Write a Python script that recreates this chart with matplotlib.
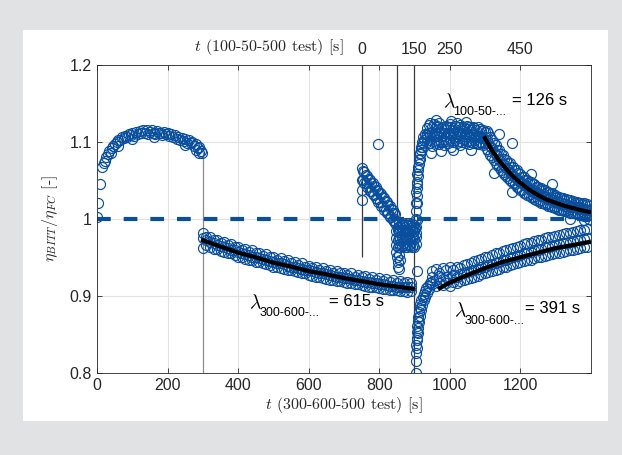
import numpy as np
import matplotlib.pyplot as plt
from matplotlib.patches import Rectangle
import matplotlib.transforms as mtransforms

plt.rcParams['mathtext.fontset'] = 'cm'

# ---- data ----------------------------------------------------------------
# 0-300 s (first arc), pairs (t, ratio)
seg_a = [(0, 1.003), (3, 1.020), (8, 1.045), (14, 1.068), (18, 1.072), (22, 1.075),
         (26, 1.080), (30, 1.084), (34, 1.088), (38, 1.086), (42, 1.092), (46, 1.095),
         (50, 1.097), (55, 1.100), (60, 1.102), (60, 1.095), (65, 1.103), (70, 1.106),
         (75, 1.105), (80, 1.108), (85, 1.107), (90, 1.110), (95, 1.109), (100, 1.112),
         (100, 1.104), (105, 1.108), (110, 1.113), (115, 1.110), (120, 1.114), (125, 1.111),
         (130, 1.116), (135, 1.112), (140, 1.115), (145, 1.110), (150, 1.113), (155, 1.116),
         (160, 1.112), (160, 1.106), (165, 1.110), (170, 1.114), (175, 1.111), (180, 1.112),
         (185, 1.109), (190, 1.113), (195, 1.110), (200, 1.111), (205, 1.108), (210, 1.110),
         (215, 1.107), (220, 1.109), (225, 1.104), (230, 1.107), (235, 1.103), (240, 1.105),
         (245, 1.101), (250, 1.104), (250, 1.096), (255, 1.099), (260, 1.102), (265, 1.098),
         (270, 1.100), (275, 1.095), (280, 1.097), (280, 1.090), (285, 1.092), (290, 1.094),
         (290, 1.086), (295, 1.088), (298, 1.085)]

# 300-890 s decay band (three rows)
seg_b_t = list(range(300, 900, 10))
seg_b_hi = [0.981, 0.977, 0.976, 0.972, 0.973, 0.969, 0.970, 0.966, 0.967, 0.963,
            0.964, 0.960, 0.961, 0.957, 0.959, 0.955, 0.956, 0.952, 0.954, 0.950,
            0.951, 0.947, 0.949, 0.945, 0.946, 0.943, 0.944, 0.940, 0.942, 0.938,
            0.939, 0.936, 0.938, 0.934, 0.936, 0.932, 0.934, 0.930, 0.932, 0.929,
            0.930, 0.927, 0.929, 0.925, 0.927, 0.924, 0.926, 0.922, 0.924, 0.921,
            0.923, 0.919, 0.922, 0.918, 0.920, 0.917, 0.919, 0.916, 0.918, 0.917]
seg_b_mid = [0.975, 0.972, 0.970, 0.968, 0.966, 0.965, 0.963, 0.962, 0.960, 0.959,
             0.957, 0.956, 0.954, 0.953, 0.951, 0.950, 0.949, 0.948, 0.946, 0.945,
             0.944, 0.943, 0.942, 0.941, 0.939, 0.938, 0.937, 0.936, 0.935, 0.934,
             0.933, 0.932, 0.931, 0.930, 0.929, 0.928, 0.927, 0.926, 0.925, 0.924,
             0.923, 0.923, 0.922, 0.921, 0.920, 0.919, 0.918, 0.918, 0.917, 0.916,
             0.915, 0.915, 0.914, 0.913, 0.913, 0.912, 0.912, 0.911, 0.911, 0.912]
seg_b_lo = [0.962, 0.966, 0.964, 0.961, 0.961, 0.958, 0.957, 0.955, 0.955, 0.953,
            0.951, 0.950, 0.948, 0.947, 0.946, 0.944, 0.944, 0.942, 0.941, 0.940,
            0.938, 0.937, 0.936, 0.935, 0.934, 0.933, 0.932, 0.931, 0.929, 0.929,
            0.927, 0.926, 0.925, 0.924, 0.923, 0.922, 0.921, 0.921, 0.919, 0.919,
            0.918, 0.917, 0.916, 0.915, 0.915, 0.914, 0.913, 0.912, 0.912, 0.911,
            0.910, 0.909, 0.909, 0.908, 0.908, 0.907, 0.906, 0.906, 0.905, 0.906]

# 750-846 s descending streak (two rows) + outliers
seg_c_t = list(range(750, 850, 4))
seg_c_hi = [1.066, 1.062, 1.061, 1.057, 1.056, 1.052, 1.051, 1.047, 1.046, 1.043,
            1.041, 1.038, 1.036, 1.033, 1.032, 1.028, 1.027, 1.023, 1.022, 1.018,
            1.017, 1.013, 1.012, 1.008, 1.006]
seg_c_lo = [1.050, 1.051, 1.046, 1.046, 1.041, 1.041, 1.036, 1.036, 1.032, 1.031,
            1.027, 1.026, 1.022, 1.022, 1.017, 1.017, 1.012, 1.012, 1.007, 1.007,
            1.003, 1.002, 0.998, 0.997, 0.994]
seg_c_extra = [(750, 1.025), (751, 1.038), (797, 1.097)]

# 848-904 s dense cluster (four rows) + tail
seg_d_t = list(range(848, 906, 4))
seg_d_rows = [
    [0.993, 0.990, 0.994, 0.991, 0.995, 0.992, 0.990, 0.994, 0.992, 0.995, 0.991, 0.993, 0.990, 0.992, 0.989],
    [0.984, 0.986, 0.983, 0.985, 0.982, 0.986, 0.984, 0.983, 0.985, 0.982, 0.984, 0.986, 0.983, 0.984, 0.982],
    [0.975, 0.973, 0.976, 0.974, 0.977, 0.973, 0.975, 0.976, 0.974, 0.976, 0.973, 0.975, 0.977, 0.974, 0.976],
    [0.966, 0.964, 0.967, 0.963, 0.965, 0.968, 0.964, 0.966, 0.963, 0.967, 0.965, 0.963, 0.966, 0.964, 0.967],
]
seg_d_tail = [(849, 0.957), (851, 0.950), (853, 0.944), (852, 0.938), (855, 0.935),
              (856, 0.953), (858, 0.946)]

# recovery after 900 s: lower dip and upper rise
seg_e_low = [(903, 0.800), (904, 0.815), (905, 0.826), (905, 0.836), (906, 0.845),
             (907, 0.853), (908, 0.861), (909, 0.867), (911, 0.873), (913, 0.879),
             (915, 0.884), (917, 0.889), (920, 0.894), (923, 0.898), (926, 0.902),
             (930, 0.906), (934, 0.910), (938, 0.913), (943, 0.916), (948, 0.918),
             (907, 0.832), (908, 0.842), (910, 0.851), (911, 0.858), (913, 0.866),
             (916, 0.874), (919, 0.882), (922, 0.888), (926, 0.894), (930, 0.899),
             (935, 0.904), (940, 0.909), (906, 0.932)]
seg_e_up = [(902, 0.988), (903, 1.000), (904, 1.010), (905, 1.020), (906, 1.030),
            (907, 1.040), (908, 1.048), (909, 1.056), (911, 1.064), (913, 1.071),
            (915, 1.078), (917, 1.084), (919, 1.089), (922, 1.094), (925, 1.099),
            (928, 1.103), (932, 1.106), (936, 1.109), (906, 0.998), (906, 1.020),
            (905, 1.035), (906, 1.045), (908, 1.058), (910, 1.068), (912, 1.076),
            (915, 1.086), (918, 1.093), (921, 1.100), (925, 1.106), (929, 1.110)]

# 935-1100 s plateau (three rows) + outliers
seg_f_t = list(range(935, 1105, 5))
seg_f_rows = [
    [1.118, 1.122, 1.125, 1.120, 1.123, 1.119, 1.121, 1.124, 1.118, 1.120, 1.117, 1.121,
     1.119, 1.123, 1.120, 1.118, 1.121, 1.125, 1.119, 1.122, 1.118, 1.120, 1.117, 1.121,
     1.119, 1.116, 1.120, 1.118, 1.115, 1.119, 1.117, 1.114, 1.116, 1.113],
    [1.110, 1.112, 1.109, 1.113, 1.110, 1.112, 1.108, 1.111, 1.113, 1.109, 1.111, 1.108,
     1.112, 1.110, 1.109, 1.112, 1.110, 1.108, 1.111, 1.109, 1.112, 1.108, 1.110, 1.111,
     1.108, 1.110, 1.107, 1.109, 1.108, 1.106, 1.108, 1.107, 1.105, 1.106],
    [1.100, 1.098, 1.102, 1.095, 1.101, 1.099, 1.103, 1.097, 1.100, 1.102, 1.096, 1.101,
     1.099, 1.103, 1.094, 1.100, 1.102, 1.098, 1.101, 1.096, 1.100, 1.103, 1.099, 1.101,
     1.097, 1.100, 1.098, 1.102, 1.099, 1.097, 1.100, 1.098, 1.096, 1.099],
]
seg_f_extra = [(962, 1.128), (1003, 1.127), (1045, 1.126), (975, 1.088), (1010, 1.090),
               (1060, 1.089), (947, 1.085)]

# 1105-1395 s upper decay (three rows) + outliers
seg_g_t = list(range(1105, 1400, 5))
seg_g_rows = [
    [1.114, 1.111, 1.106, 1.103, 1.098, 1.096, 1.090, 1.089, 1.084, 1.083,
     1.078, 1.077, 1.073, 1.072, 1.068, 1.067, 1.063, 1.063, 1.059, 1.058,
     1.055, 1.055, 1.051, 1.051, 1.048, 1.048, 1.045, 1.045, 1.042, 1.042,
     1.039, 1.040, 1.037, 1.037, 1.035, 1.035, 1.032, 1.033, 1.030, 1.031,
     1.028, 1.029, 1.027, 1.027, 1.025, 1.026, 1.024, 1.024, 1.022, 1.023,
     1.021, 1.022, 1.020, 1.021, 1.019, 1.020, 1.018, 1.019, 1.017],
    [1.103, 1.099, 1.095, 1.092, 1.087, 1.084, 1.082, 1.077, 1.076, 1.071,
     1.070, 1.066, 1.065, 1.061, 1.060, 1.056, 1.055, 1.052, 1.051, 1.048,
     1.047, 1.044, 1.044, 1.041, 1.040, 1.038, 1.037, 1.035, 1.035, 1.032,
     1.032, 1.030, 1.030, 1.028, 1.028, 1.026, 1.026, 1.024, 1.024, 1.022,
     1.022, 1.020, 1.021, 1.019, 1.019, 1.017, 1.018, 1.016, 1.017, 1.015,
     1.016, 1.014, 1.015, 1.013, 1.014, 1.012, 1.013, 1.011, 1.012],
    [1.091, 1.088, 1.083, 1.081, 1.076, 1.073, 1.070, 1.067, 1.064, 1.061,
     1.058, 1.056, 1.053, 1.051, 1.049, 1.046, 1.045, 1.042, 1.041, 1.038,
     1.037, 1.034, 1.034, 1.031, 1.031, 1.028, 1.028, 1.026, 1.025, 1.023,
     1.023, 1.021, 1.021, 1.019, 1.019, 1.017, 1.017, 1.016, 1.015, 1.014,
     1.013, 1.012, 1.012, 1.011, 1.010, 1.010, 1.009, 1.008, 1.008, 1.007,
     1.007, 1.006, 1.006, 1.005, 1.005, 1.004, 1.005, 1.004, 1.005],
]
seg_g_extra = [(1125, 1.060), (1176, 1.098), (1176, 1.035), (1140, 1.110), (1230, 1.058),
               (1290, 1.045), (1380, 0.998), (1395, 1.000), (1340, 1.000)]

# 950-1390 s lower rise (three rows)
seg_h_t = list(range(950, 1400, 10))
seg_h_rows = [
    [0.932, 0.935, 0.930, 0.936, 0.933, 0.937, 0.934, 0.938, 0.936, 0.940,
     0.941, 0.943, 0.945, 0.946, 0.948, 0.950, 0.951, 0.953, 0.955, 0.956,
     0.958, 0.959, 0.961, 0.962, 0.964, 0.965, 0.967, 0.968, 0.969, 0.971,
     0.972, 0.973, 0.975, 0.976, 0.977, 0.978, 0.979, 0.980, 0.981, 0.982,
     0.983, 0.984, 0.985, 0.986, 0.987],
    [0.924, 0.921, 0.926, 0.922, 0.925, 0.923, 0.927, 0.925, 0.928, 0.929,
     0.931, 0.932, 0.934, 0.935, 0.937, 0.938, 0.940, 0.941, 0.943, 0.944,
     0.946, 0.947, 0.949, 0.950, 0.952, 0.953, 0.955, 0.956, 0.957, 0.959,
     0.960, 0.961, 0.963, 0.964, 0.965, 0.966, 0.967, 0.968, 0.969, 0.970,
     0.971, 0.972, 0.973, 0.974, 0.975],
    [0.915, 0.913, 0.917, 0.914, 0.916, 0.913, 0.918, 0.916, 0.919, 0.920,
     0.922, 0.923, 0.925, 0.926, 0.928, 0.929, 0.931, 0.932, 0.934, 0.935,
     0.937, 0.938, 0.940, 0.941, 0.942, 0.944, 0.945, 0.946, 0.947, 0.949,
     0.950, 0.951, 0.952, 0.953, 0.954, 0.955, 0.956, 0.957, 0.958, 0.959,
     0.960, 0.961, 0.962, 0.963, 0.964],
]

# exponential fits
fit1_t = [300, 350, 400, 450, 500, 550, 600, 650, 700, 750, 800, 850, 895]
fit1_v = [0.972, 0.964, 0.956, 0.950, 0.943, 0.938, 0.932, 0.928, 0.923, 0.919, 0.915, 0.912, 0.909]
fit2_t = [972, 1000, 1050, 1100, 1150, 1200, 1250, 1300, 1350, 1395]
fit2_v = [0.910, 0.917, 0.927, 0.936, 0.944, 0.950, 0.956, 0.962, 0.966, 0.970]
fit3_t = [1100, 1120, 1140, 1160, 1180, 1200, 1225, 1250, 1275, 1300, 1325, 1350, 1375, 1395]
fit3_v = [1.105, 1.089, 1.076, 1.065, 1.055, 1.047, 1.038, 1.031, 1.025, 1.021, 1.017, 1.014, 1.011, 1.009]

# markers of test phases
vline_t = [300, 750, 850, 900]
vline_lo = [0.8, 0.95, 0.985, 0.8]
vline_hi = [1.087, 1.2, 1.2, 1.2]
vline_col = ['#8c8c8c', '#3a3a3a', '#3a3a3a', '#3a3a3a']

top_tick_t = [750, 900, 1000, 1200]
top_tick_lab = ['0', '150', '250', '450']

# ---- collect all points ----------------------------------------------------
t_all, v_all = [], []
for pairs in [seg_a, seg_c_extra, seg_d_tail, seg_e_low, seg_e_up, seg_f_extra, seg_g_extra]:
    for tt, vv in pairs:
        t_all.append(tt)
        v_all.append(vv)
for row in [seg_b_hi, seg_b_mid, seg_b_lo]:
    t_all += seg_b_t
    v_all += row
for row in [seg_c_hi, seg_c_lo]:
    t_all += seg_c_t
    v_all += row
for rows, tt in [(seg_d_rows, seg_d_t), (seg_f_rows, seg_f_t), (seg_g_rows, seg_g_t), (seg_h_rows, seg_h_t)]:
    for row in rows:
        t_all += tt
        v_all += row

blue = '#0a4f9e'
sans = 'Liberation Sans'

fig = plt.figure(figsize=(6.22, 4.55), dpi=100)
fig.patch.set_facecolor('#e1e2e4')
fig.patches.append(Rectangle((23/622, 1-421/455), 585/622, 391/455, transform=fig.transFigure,
                             facecolor='white', edgecolor='none', zorder=-5))
ax = fig.add_axes([97.2/622, 1-372.7/455, 493.5/622, 307.7/455])

ax.grid(True, color='#e3e3e3', linewidth=0.8)
ax.set_axisbelow(True)
ax.vlines(vline_t, vline_lo, vline_hi, colors=vline_col, linewidth=0.9, zorder=1)
ax.plot([0, 1400], [1, 1], color='#0b4f96', linewidth=3, dashes=(3.3, 3.1), zorder=2)
ax.plot(t_all, v_all, 'o', mfc='none', mec=blue, ms=7.2, mew=0.85, zorder=3)
for ft, fv in [(fit1_t, fit1_v), (fit2_t, fit2_v), (fit3_t, fit3_v)]:
    ax.plot(ft, fv, color='black', linewidth=3, zorder=4)

ax.set_xlim(0, 1400)
ax.set_ylim(0.8, 1.2)
ax.set_xticks([0, 200, 400, 600, 800, 1000, 1200])
ax.set_yticks([0.8, 0.9, 1.0, 1.1, 1.2])
ax.set_yticklabels(['0.8', '0.9', '1', '1.1', '1.2'])
ax.tick_params(direction='in', length=3.5, width=0.6, top=True, right=True,
               labelsize=11.5, colors='#262626', pad=4)
for lab in ax.get_xticklabels() + ax.get_yticklabels():
    lab.set_fontfamily(sans)
for sp in ax.spines.values():
    sp.set_color('#262626')
    sp.set_linewidth(0.6)

ax.set_xlabel(r'$t$ (300-600-500 test) [s]', fontfamily='cmr10', fontsize=11.5,
              color='#262626', labelpad=1)
ax.set_ylabel(r'$\eta_{BITT}/\eta_{FC}$ [-]', fontfamily='cmr10', fontsize=11.5,
              color='#262626', labelpad=7)

# second time scale drawn as text above the frame
trans = mtransforms.blended_transform_factory(ax.transData, ax.transAxes)
for tt, lab in zip(top_tick_t, top_tick_lab):
    ax.text(tt, 1.025, lab, transform=trans, ha='center', va='bottom', fontsize=11.5,
            fontfamily=sans, color='#262626')
ax.text(700, 1.025, r'$t$ (100-50-500 test) [s]', transform=trans, ha='right', va='bottom',
        fontsize=11.5, fontfamily='cmr10', color='#262626')

# time constants
labels = [(980, 1.152, 1009, 1.139, '100-50-...', 1177, '= 126 s'),
          (432, 0.891, 462, 0.877, '300-600-...', 659, '= 615 s'),
          (1012, 0.881, 1042, 0.867, '300-600-...', 1214, '= 391 s')]
for lx, ly, sx, sy, sub, ex, eq in labels:
    ax.text(lx, ly, r'$\lambda$', fontsize=14, va='center', ha='left')
    ax.text(sx, sy, sub, fontsize=9, fontfamily=sans, va='center', ha='left')
    ax.text(ex, ly + 0.002, eq, fontsize=12, fontfamily=sans, va='center', ha='left')

fig.savefig('out.png', dpi=100, facecolor=fig.get_facecolor())
